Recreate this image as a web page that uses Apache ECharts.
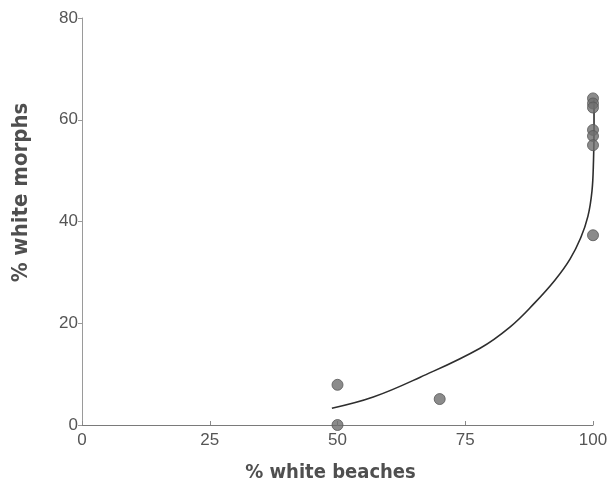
<!DOCTYPE html>
<html>
<head>
<meta charset="utf-8">
<style>
  html, body { margin: 0; padding: 0; background: #ffffff; }
  #chart { width: 615px; height: 489px; }
</style>
<script src="https://cdn.jsdelivr.net/npm/echarts@6/dist/echarts.min.js"></script>
</head>
<body>
<div id="chart"></div>
<script>
// Observed populations: % white beaches vs % white morphs
const beachPct = [50, 50, 70, 100, 100, 100, 100, 100, 100, 100];
const morphPct = [7.9, 0, 5.1, 64.2, 63.2, 62.4, 58.0, 56.8, 55.0, 37.3];

// Fitted curve, read along its length
const curveX = [48.9, 57.0, 66.2, 77.9, 83.8, 88.5, 92.5, 95.5, 97.6, 99.0, 99.8, 100.1, 100.2, 100.2];
const curveY = [3.3, 5.5, 9.4, 15.1, 19.3, 23.9, 28.4, 32.6, 36.8, 41.0, 46.0, 52.0, 58.0, 64.0];

const xTicks = [0, 25, 50, 75, 100];
const yTicks = [0, 20, 40, 60, 80];

const points = beachPct.map((x, i) => [x, morphPct[i]]);
const curve = curveX.map((x, i) => [x, curveY[i]]);

const tickFont = { fontFamily: 'Liberation Sans, Arial, sans-serif', fontSize: 17, color: '#555555' };
const titleFont = 'DejaVu Sans Condensed, Liberation Sans Narrow, sans-serif';

const chart = echarts.init(document.getElementById('chart'), null, { renderer: 'canvas' });
chart.setOption({
  backgroundColor: '#ffffff',
  animation: false,
  grid: { left: 82, right: 22, top: 18, bottom: 64, containLabel: false },
  xAxis: {
    type: 'value',
    min: xTicks[0],
    max: xTicks[xTicks.length - 1],
    interval: 25,
    name: '% white beaches',
    nameLocation: 'middle',
    nameGap: 38,
    nameTextStyle: { fontFamily: titleFont, fontSize: 20, fontWeight: 'bold', color: '#4f4f4f', padding: [0, 14, 0, 0] },
    axisLine: { lineStyle: { color: '#7a7a7a', width: 1 } },
    axisTick: { inside: true, length: 4, lineStyle: { color: '#8a8a8a' } },
    axisLabel: Object.assign({ margin: 7, formatter: v => String(v) }, tickFont),
    splitLine: { show: false }
  },
  yAxis: {
    type: 'value',
    min: yTicks[0],
    max: yTicks[yTicks.length - 1],
    interval: 20,
    name: '% white morphs',
    nameLocation: 'middle',
    nameGap: 50,
    nameTextStyle: { fontFamily: titleFont, fontSize: 22, fontWeight: 'bold', color: '#4f4f4f', padding: [0, 0, 0, 58] },
    axisLine: { show: true, lineStyle: { color: '#9a9a9a', width: 1 } },
    axisTick: { show: true, length: 4, lineStyle: { color: '#9a9a9a' } },
    axisLabel: Object.assign({ margin: 4, formatter: v => String(v) }, tickFont),
    splitLine: { show: false }
  },
  series: [
    {
      type: 'line',
      data: curve,
      smooth: 0.4,
      showSymbol: false,
      lineStyle: { color: '#2e2e2e', width: 1.6 },
      z: 2
    },
    {
      type: 'scatter',
      data: points,
      symbol: 'circle',
      symbolSize: 11,
      itemStyle: { color: '#6e6e6e', borderColor: '#575757', borderWidth: 1 },
      z: 3
    }
  ]
});
</script>
</body>
</html>
